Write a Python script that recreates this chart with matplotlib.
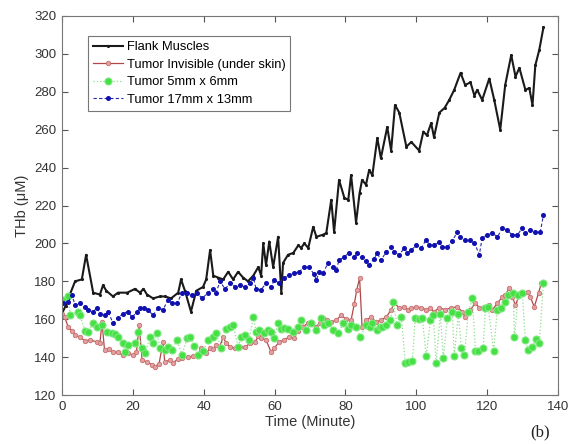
import matplotlib
matplotlib.use("Agg")
import matplotlib.pyplot as plt

plt.rcParams['font.family'] = ['Liberation Sans', 'DejaVu Sans']

# Flank Muscles
t_flank = [0, 1, 2, 3.7, 5.6, 6.8, 8.8, 10.7, 11.6, 12.5, 14.4, 15.8, 18.4, 20.6, 22, 23, 24, 25.7,
           27.7, 29, 30.8, 32.8, 33.6, 34.7, 36.4, 37.9, 39.8, 40.7, 41.8, 42.7, 44, 45.5, 46.9, 48.3,
           49.7, 51.1, 52.5, 54, 55.4, 56.2, 56.8, 57.6, 58.5, 59.6, 61, 61.9, 62.4, 63.8, 65.3, 66.7,
           67.5, 68.4, 69.5, 70.9, 71.8, 73.7, 74.6, 76, 76.8, 78.2, 79.7, 80.8, 81.6, 83, 84, 84.7,
           85.8, 86.7, 87.6, 89, 90, 91.8, 92.9, 94, 95.2, 97.2, 98.6, 100.8, 102, 103, 104.2, 105,
           106.5, 108, 109.3, 110.7, 112.5, 113.8, 115.3, 116.4, 117.2, 118.6, 120.6, 122, 123.7,
           125.1, 126.8, 128, 129.1, 130.8, 131.9, 132.8, 133.6, 134.7, 135.9]
v_flank = [163, 167, 172, 180, 181, 194, 174, 173, 178, 175, 172, 174, 174, 176, 174, 176, 173, 171,
           172, 172, 171, 174, 181, 175, 164, 175, 177, 181, 196.5, 183, 182, 181, 185, 181,
           185, 182, 180, 183, 187.5, 183, 200, 188.5, 201, 187.5, 203.5, 174, 189.7, 194, 195, 199,
           197.6, 200, 197.6, 208.7, 203.5, 204.6, 205.5, 223, 206, 233.5, 224, 223, 236, 211, 226.6, 233.5,
           231, 238.7, 236, 255.6, 245, 261.4, 249, 273, 269, 251, 253.5, 249, 259, 257, 263.5, 256,
           269, 271.5, 275.7, 281, 290, 283.6, 285, 278, 281, 275.7, 287, 275.7, 260,
           283.6, 299.4, 288, 292.6, 281, 282, 273, 294, 302, 314]

# Tumor Invisible (under skin)
t_inv = [0, 0.8, 1.7, 2.8, 3.7, 5, 6.5, 7.9, 9.9, 10.7, 11.3, 12, 13.2, 14.4, 15.8, 17.2, 18.6, 20,
         21, 21.8, 22.6, 24, 25.4, 26.3, 27.4, 28.5, 29, 30.5, 31.4, 32.7, 34, 35.6, 37, 38.2, 39.3,
         40.7, 41.8, 42.7, 43.5, 44.5, 45.5, 46.3, 47.5, 48.9, 50.3, 51.7, 53.1, 54.5, 55.4, 56.2,
         57.6, 59, 59.9, 61.3, 62.7, 64.1, 65.5, 66.7, 68, 69.5, 70.3, 71.8, 72.7, 73.7, 74.8, 76,
         77.4, 78.8, 80.2, 81.6, 82.5, 83.2, 84, 84.7, 85.8, 87.3, 88.7, 90, 91.5, 92.9, 93.8, 95.2,
         96.6, 97.6, 98.6, 100, 101.4, 102.8, 103.8, 105, 106.5, 108.2, 109.9, 111.5, 113, 113.8,
         115.3, 116.7, 117.8, 119.2, 120.6, 121.5, 122.9, 124.3, 125.1, 126.3, 127.1, 128, 129.1,
         130.5, 131.4, 132.2, 133.3, 134.5, 135.3, 136]
v_inv = [163, 161, 156, 154, 151.6, 150.6, 148.5, 149, 148, 147.4, 158.5, 143.7, 144.5, 142.7, 142.5, 141, 142, 141,
         142.5, 157, 138.5, 137.4, 136, 135, 136.5, 148, 137.4, 138.5, 137, 139, 139.5, 140, 140.5, 140.5, 144.7,
         142, 144.7, 144.2, 146.4, 145.5, 150.6, 147.4, 145.3, 144.7, 145.3, 145.3, 147.4, 148, 151, 150,
         149, 142.7, 144.7, 148, 149, 150.6, 150, 154, 156, 158, 158.5, 156, 158, 160.6, 159.5, 158.5,
         159.6, 162, 160, 159.6, 168, 175.5, 181.7, 156, 159.6, 161, 158.5, 159.6, 161, 165, 168.5, 166,
         166.5, 165, 166, 166.5, 166, 165, 166, 164, 166, 165, 166, 166.5, 164, 161,
         165, 168.5, 166, 166.5, 167.5, 165, 168.5, 171.7, 172.8, 176.5, 171.7, 167.5, 172.8,
         173.8, 174.4, 171.7, 166.5, 173.8, 179, 179]

# Tumor 5mm x 6mm
t_5mm = [0.3, 1.7, 2.3, 4.5, 5, 6.5, 7.4, 8.8, 10, 11.2, 12.7, 14.1, 15, 15.8, 17.2, 17.8, 18.6, 20.6,
         21.5, 22.6, 23.4, 24.9, 25.7, 26.8, 27.7, 29.1, 29.9, 31, 32.5, 33.9, 35.3, 36.2, 37.2, 38.4,
         39.8, 41.2, 42.7, 43.5, 44.9, 46.3, 47.5, 48.3, 49.7, 50.6, 51.7, 52.8, 54, 54.8, 55.7, 57,
         58.2, 59, 59.9, 61, 61.9, 62.8, 63.8, 65.3, 66.7, 67.5, 68.9, 70.3, 71.8, 73.2, 74, 75.2,
         76.6, 78, 79.4, 80.8, 81.6, 83, 84.2, 85.8, 86.8, 87.6, 89, 89.8, 90.4, 91.5, 92.7, 93.5,
         94.6, 95.8, 96.9, 97.7, 98.9, 99.7, 100.7, 101.7, 102.8, 104, 104.8, 105.6, 106.8, 107.6,
         108.8, 110.2, 110.7, 111.9, 112.7, 113.6, 114.7, 115.8, 116.7, 117.5, 118.9, 119.5, 120.3,
         121.8, 122.9, 124, 125, 126, 127.4, 127.7, 128.8, 129.9, 130.8, 131.6, 132.8, 133.9,
         134.7, 135.9]
v_5mm = [170, 172, 162, 164, 162, 154, 153, 158, 156, 157, 153, 152.6, 152, 150.6, 147.4, 142.7, 146.4, 147.4,
         153, 144.7, 142, 150.6, 147.4, 152.6, 144.7, 143.7, 145.3, 144, 149, 141, 150, 150.6, 146, 141,
         143, 149, 150.6, 152.6, 144.7, 155, 156, 157, 145.3, 150.6, 151.6, 149, 161, 153, 154.3, 152.6,
         154.3, 153, 150, 158, 155, 155.5, 155, 153, 156, 159.6, 154.3, 158, 154.3, 160.6, 157, 158,
         154.3, 152.6, 158, 155, 157, 156, 150.6, 157, 156, 158, 154.3, 156, 156, 157, 159.6, 169,
         157, 161, 137, 137.4, 138, 160.6, 160, 160.6, 140.6, 159.6, 162, 137, 163, 139.5,
         160.6, 164, 140.6, 163, 144.7, 141, 164, 171, 143.4, 143.4, 144.7, 166, 166.5,
         143.4, 165, 166, 169, 172.8, 174, 150.6, 172.8, 174, 149, 143.7, 145.3, 149.6,
         147.4, 179]

# Tumor 17mm x 13mm
t_17mm = [0.3, 1.7, 2.8, 3.7, 5, 6.5, 7.4, 8.8, 9.9, 10.7, 12, 13, 14.4, 15.8, 17.2, 18.6, 19.8, 21.2,
          22, 23.2, 24.3, 25.7, 27.1, 28.5, 29.9, 31, 32.5, 33.9, 35.3, 36.7, 38, 39.6, 41.2, 42.7,
          43.5, 44.6, 46, 47.5, 48.9, 50.3, 51.7, 53.1, 54, 54.8, 56.2, 57.6, 59, 59.9, 61.3, 62.7,
          64.1, 65.5, 66.9, 68.4, 69.8, 71, 71.8, 72.6, 73.7, 75.1, 76.6, 77.4, 78.2, 79.7, 81, 82.5,
          83.3, 84.7, 85.7, 86.7, 88.1, 89, 90, 91.5, 92.9, 93.8, 95.2, 96.6, 97.5, 98.6, 100, 101.4,
          102.8, 103.7, 105, 106.5, 107.3, 108.8, 110.2, 111.6, 112.4, 113.8, 115.1, 116.4, 117.8,
          118.6, 120, 121.5, 122.9, 124.3, 125.7, 127.1, 128.5, 129.9, 130.8, 132.2, 133.6, 135, 135.9]
v_17mm = [168.5, 169, 172.6, 167.5, 168.5, 166.5, 165, 164, 166, 163, 162, 164, 158, 160.6, 163, 164, 161, 164,
          166, 166, 165, 162, 166, 165, 170, 168.5, 168.5, 174, 174, 172.6, 174, 171, 174, 176,
          174, 180, 176, 179, 177, 178, 177, 179, 182, 176, 175.5, 179, 177, 180.7, 179, 182,
          183.3, 184.4, 185, 187.5, 187.5, 184, 180.7, 185, 184.4, 189.6, 187.5, 186, 191, 193, 195, 193,
          195, 193, 190.5, 188.6, 192, 195, 191, 195.5, 198, 195.5, 194, 197.6, 195, 196.5, 199, 197.6,
          202, 199, 199, 200.7, 198, 198, 201.5, 206, 203.4, 202, 202, 200.3, 194,
          203, 204.4, 205.5, 203.4, 208, 207, 204.4, 204.4, 208, 205.5, 207, 206, 206, 215]

x_ticks = [0, 20, 40, 60, 80, 100, 120, 140]
y_ticks = [120, 140, 160, 180, 200, 220, 240, 260, 280, 300, 320]

fig = plt.figure(figsize=(5.71, 4.44), dpi=100)
ax = fig.add_axes([62 / 571, 1 - 395 / 444, 496 / 571, 379 / 444])

ax.plot(t_flank, v_flank, color='#1a1a1a', linestyle='-', linewidth=1.5,
        marker='.', markersize=2.5, label='Flank Muscles')
ax.plot(t_inv, v_inv, color='#b04848', linestyle='-', linewidth=0.9,
        marker='o', markersize=3.2, markerfacecolor='#e2a0a0', markeredgecolor='#c87070',
        markeredgewidth=0.6, label='Tumor Invisible (under skin)')
ax.plot(t_5mm, v_5mm, color='#8fdc8f', linestyle=':', linewidth=0.9,
        marker='o', markersize=5, markerfacecolor='#44e044', markeredgecolor='#7fe87f',
        markeredgewidth=0.8, label='Tumor 5mm x 6mm')
ax.plot(t_17mm, v_17mm, color='#2a2aa8', linestyle='--', linewidth=0.8, dashes=(3, 2),
        marker='o', markersize=2.6, markerfacecolor='#1010b0', markeredgecolor='#1010b0',
        label='Tumor 17mm x 13mm')

ax.set_xlim(0, 140)
ax.set_ylim(120, 320)
ax.set_xticks(x_ticks)
ax.set_yticks(y_ticks)
ax.tick_params(direction='in', top=True, right=True, labelsize=9.5, length=4, pad=4,
               color='#555555', labelcolor='#333333')
for s in ax.spines.values():
    s.set_color('#777777')
    s.set_linewidth(0.8)

ax.set_xlabel('Time (Minute)', fontsize=10.5, color='#333333', labelpad=2)
ax.set_ylabel('THb (\u03bcM)', fontsize=10.5, color='#333333', labelpad=4)

leg = ax.legend(loc='upper left', bbox_to_anchor=(0.052, 0.947), fontsize=9.3,
                frameon=True, fancybox=False, borderpad=0.4, labelspacing=0.42,
                handlelength=2.3, handletextpad=0.3, borderaxespad=0)
leg.get_frame().set_edgecolor('#555555')
leg.get_frame().set_linewidth(0.8)

fig.text(540 / 571, 1 - 432 / 444, '(b)', fontsize=12, family='Liberation Serif',
         ha='center', va='center', color='#222222')

fig.savefig('out.png', dpi=100)
